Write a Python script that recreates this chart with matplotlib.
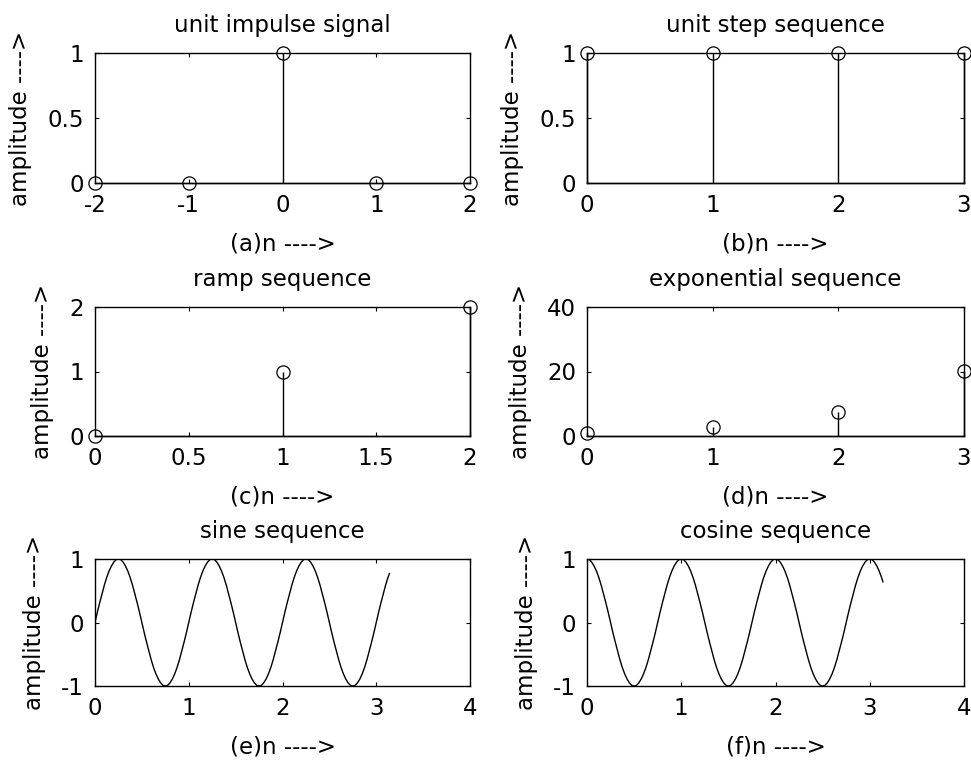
import matplotlib
matplotlib.use("Agg")
import matplotlib.pyplot as plt

plt.rcParams['font.family'] = ['DejaVu Sans']

# ---- data ----
impulse_n = [-2, -1, 0, 1, 2]
impulse_vals = [0, 0, 1, 0, 0]

step_n = [0, 1, 2, 3]
step_vals = [1, 1, 1, 1]

ramp_n = [0, 1, 2]
ramp_vals = [0, 1, 2]

exp_n = [0, 1, 2, 3]
exp_vals = [1.0, 2.72, 7.39, 20.09]

sine_cycle = [0.00, 0.16, 0.31, 0.45, 0.59, 0.71, 0.81, 0.89, 0.95, 0.99,
              1.00, 0.99, 0.95, 0.89, 0.81, 0.71, 0.59, 0.45, 0.31, 0.16,
              0.00, -0.16, -0.31, -0.45, -0.59, -0.71, -0.81, -0.89, -0.95, -0.99,
              -1.00, -0.99, -0.95, -0.89, -0.81, -0.71, -0.59, -0.45, -0.31, -0.16]
cosine_cycle = [1.00, 0.99, 0.95, 0.89, 0.81, 0.71, 0.59, 0.45, 0.31, 0.16,
                0.00, -0.16, -0.31, -0.45, -0.59, -0.71, -0.81, -0.89, -0.95, -0.99,
                -1.00, -0.99, -0.95, -0.89, -0.81, -0.71, -0.59, -0.45, -0.31, -0.16,
                0.00, 0.16, 0.31, 0.45, 0.59, 0.71, 0.81, 0.89, 0.95, 0.99]
wave_n = [round(0.025 * k, 3) for k in range(126)] + [3.14]
sine_vals = sine_cycle * 3 + sine_cycle[:6] + [0.77]
cosine_vals = cosine_cycle * 3 + cosine_cycle[:6] + [0.64]

titles = ["unit impulse signal", "unit step sequence", "ramp sequence",
          "exponential sequence", "sine sequence", "cosine sequence"]
xlabels = ["(a)n ---->", "(b)n ---->", "(c)n ---->",
           "(d)n ---->", "(e)n ---->", "(f)n ---->"]
ylabel_text = "amplitude ---->"

xlims = [(-2, 2), (0, 3), (0, 2), (0, 3), (0, 4), (0, 4)]
ylims = [(0, 1), (0, 1), (0, 2), (0, 40), (-1, 1), (-1, 1)]
xticks = [[-2, -1, 0, 1, 2], [0, 1, 2, 3], [0, 0.5, 1, 1.5, 2], [0, 1, 2, 3],
          [0, 1, 2, 3, 4], [0, 1, 2, 3, 4]]
xticklabels = [["-2", "-1", "0", "1", "2"], ["0", "1", "2", "3"],
               ["0", "0.5", "1", "1.5", "2"], ["0", "1", "2", "3"],
               ["0", "1", "2", "3", "4"], ["0", "1", "2", "3", "4"]]
yticks = [[0, 0.5, 1], [0, 0.5, 1], [0, 1, 2], [0, 20, 40], [-1, 0, 1], [-1, 0, 1]]
yticklabels = [["0", "0.5", "1"], ["0", "0.5", "1"], ["0", "1", "2"],
               ["0", "20", "40"], ["-1", "0", "1"], ["-1", "0", "1"]]

# ---- figure ----
W, H = 971, 760
fig = plt.figure(figsize=(W / 100, H / 100), dpi=100)
fig.patch.set_facecolor('white')

col_px = [(95, 470), (587, 964)]
row_px = [(53, 183), (307, 436), (559, 686)]

FS = 16.5

axes = []
for r in range(3):
    for c in range(2):
        x0, x1 = col_px[c]
        y0, y1 = row_px[r]
        ax = fig.add_axes([x0 / W, 1 - y1 / H, (x1 - x0) / W, (y1 - y0) / H])
        axes.append(ax)

stem_data = [(impulse_n, impulse_vals), (step_n, step_vals),
             (ramp_n, ramp_vals), (exp_n, exp_vals)]

for i, ax in enumerate(axes):
    if i < 4:
        n, v = stem_data[i]
        ax.vlines(n, 0, v, colors='black', linewidth=1.0, clip_on=False, zorder=3)
        ax.plot(n, v, linestyle='none', marker='o', markersize=9.5,
                markerfacecolor='none', markeredgecolor='black',
                markeredgewidth=0.9, clip_on=False, zorder=4)
        ax.plot([xlims[i][0], xlims[i][1]], [0, 0], color='black', linewidth=1.0,
                clip_on=False, zorder=3)
    elif i == 4:
        ax.plot(wave_n, sine_vals, color='black', linewidth=1.0)
    else:
        ax.plot(wave_n, cosine_vals, color='black', linewidth=1.0)

    ax.set_xlim(*xlims[i])
    ax.set_ylim(*ylims[i])
    ax.set_xticks(xticks[i])
    ax.set_xticklabels(xticklabels[i])
    ax.set_yticks(yticks[i])
    ax.set_yticklabels(yticklabels[i])
    ax.tick_params(direction='in', length=3, width=0.8, top=True, right=True,
                   labelsize=FS, colors='black')
    ax.tick_params(axis='x', pad=8)
    ax.tick_params(axis='y', pad=8)
    for s in ax.spines.values():
        s.set_linewidth(1.0)
        s.set_color('black')
    ax.set_title(titles[i], fontsize=FS, pad=15)
    ax.set_xlabel(xlabels[i], fontsize=FS, labelpad=11)
    ax.set_ylabel(ylabel_text, fontsize=FS, labelpad=11)

fig.savefig("out.png", dpi=100, facecolor='white')
